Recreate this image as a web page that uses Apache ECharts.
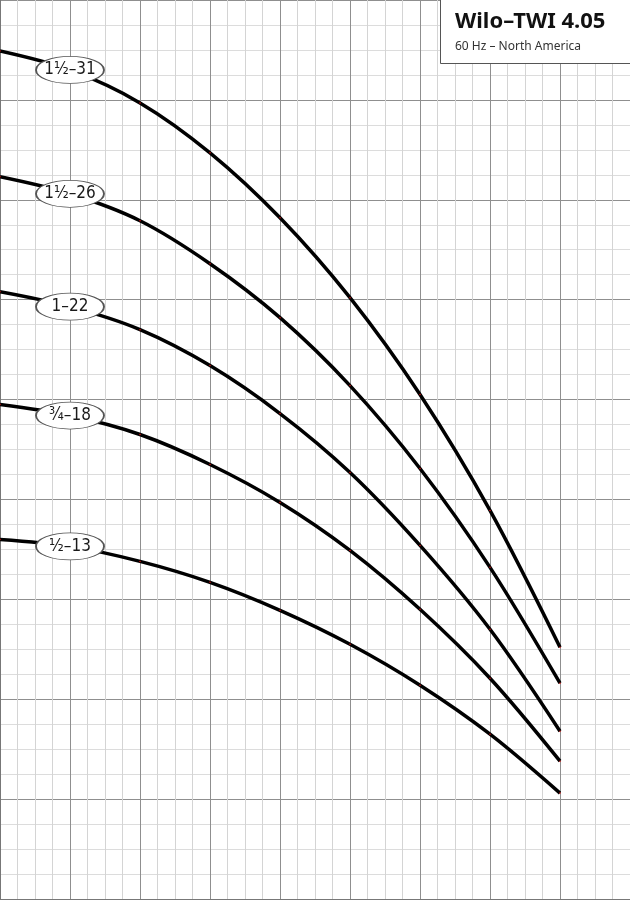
<!DOCTYPE html>
<html><head><meta charset="utf-8">
<script src="https://cdn.jsdelivr.net/npm/echarts@6/dist/echarts.min.js"></script>
<style>html,body{margin:0;padding:0;background:#fff}#c{width:630px;height:900px}</style>
</head><body><div id="c"></div>
<script>
// flow axis positions (1 unit = one major column)
const flow = [0, 1, 2, 3, 4, 5, 6, 7, 8];
const curveNames = ['1½–31', '1½–26', '1–22', '¾–18', '½–13'];
const head31 = [849, 830, 797, 747, 682, 602, 505, 389, 252];
const head26 = [723, 706, 679, 636, 582, 514, 431, 332, 216];
const head22 = [608, 593, 570, 534, 486, 427, 354, 270, 168];
const head18 = [495, 484, 465, 435, 397, 349, 290, 221, 138];
const head13 = [360, 353, 338, 317, 289, 255, 214, 165, 106];
const labelIndex = 1;
const titleText = 'Wilo–TWI 4.05';
const subtitleText = '60 Hz – North America';

const allHeads = [head31, head26, head22, head18, head13];

const chart = echarts.init(document.getElementById('c'));

const lineSeries = allHeads.map((h, i) => ({
  name: curveNames[i],
  type: 'line',
  smooth: 0.33,
  data: flow.map((x, k) => [x, h[k]]),
  symbol: 'circle',
  symbolSize: 1.5,
  showSymbol: true,
  itemStyle: { color: '#e01010', borderWidth: 0 },
  lineStyle: { color: '#000', width: 3.5 },
  z: 3,
  silent: true,
  animation: false
}));

const ellipseSeries = {
  type: 'scatter',
  symbol: 'circle',
  symbolSize: [68, 27],
  data: allHeads.map((h, i) => ({ name: curveNames[i], value: [flow[labelIndex], h[labelIndex]] })),
  itemStyle: { color: '#fff', borderColor: '#555', borderWidth: 1.2, opacity: 1 },
  label: {
    show: true,
    position: 'inside',
    formatter: p => p.name,
    color: '#1a1a1a',
    fontSize: 17,
    fontFamily: '"DejaVu Sans Condensed", "Liberation Sans Narrow", sans-serif'
  },
  emphasis: { disabled: true },
  z: 5,
  silent: true,
  animation: false
};

chart.setOption({
  animation: false,
  backgroundColor: '#fff',
  grid: { left: 0, right: 0, top: -1, bottom: 1, containLabel: false },
  title: {
    text: titleText,
    subtext: subtitleText,
    left: 450,
    top: 6,
    itemGap: 8,
    textStyle: { fontFamily: '"Noto Sans", sans-serif', fontWeight: 'bold', fontSize: 22, color: '#111' },
    subtextStyle: { fontFamily: '"Noto Sans", sans-serif', fontSize: 12, color: '#333' },
    z: 10
  },
  graphic: [{
    type: 'rect',
    shape: { x: 440.5, y: -1, width: 200, height: 64.5 },
    style: { fill: '#fff', stroke: '#555', lineWidth: 1 },
    z: 8,
    silent: true
  }],
  xAxis: {
    type: 'value', min: 0, max: 9, interval: 1,
    axisLabel: { show: false }, axisTick: { show: false },
    axisLine: { show: true, onZero: false, lineStyle: { color: '#777', width: 1 } },
    splitLine: { show: true, lineStyle: { color: '#8f8f8f', width: 1 } },
    minorTick: { show: false, splitNumber: 4 },
    minorSplitLine: { show: true, lineStyle: { color: '#d4d4d4', width: 1 } }
  },
  yAxis: {
    type: 'value', min: 0, max: 900, interval: 100,
    axisLabel: { show: false }, axisTick: { show: false },
    axisLine: { show: true, onZero: false, lineStyle: { color: '#777', width: 2 } },
    splitLine: { show: true, lineStyle: { color: '#8f8f8f', width: 1 } },
    minorTick: { show: false, splitNumber: 4 },
    minorSplitLine: { show: true, lineStyle: { color: '#dcdcdc', width: 1 } }
  },
  series: [...lineSeries, ellipseSeries]
});
</script></body></html>
